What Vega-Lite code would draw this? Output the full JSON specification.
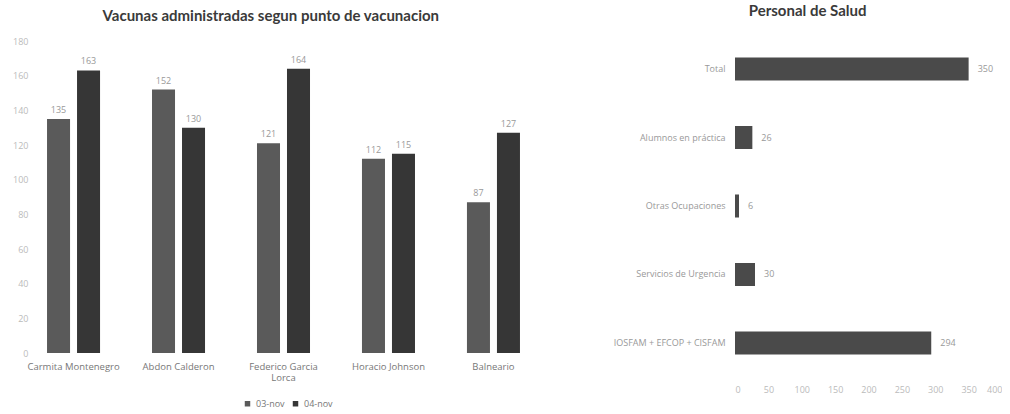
{
  "$schema": "https://vega.github.io/schema/vega-lite/v6.json",
  "background": "white",
  "padding": {"left": 12, "top": 4, "right": 0, "bottom": 0},
  "config": {"view": {"stroke": null}, "font": "Open Sans"},
  "bounds": "flush",
  "spacing": 206,
  "hconcat": [
    {
      "width": 491,
      "height": 312,
      "title": {"text": "Vacunas administradas segun punto de vacunacion", "font": "Lato", "fontSize": 15, "fontWeight": "bold", "color": "#3a3a3a", "offset": 13, "frame": "bounds", "anchor": "middle"},
      "data": {"values": [
        {"punto": "Carmita Montenegro", "fecha": "03-nov", "valor": 135},
        {"punto": "Carmita Montenegro", "fecha": "04-nov", "valor": 163},
        {"punto": "Abdon Calderon", "fecha": "03-nov", "valor": 152},
        {"punto": "Abdon Calderon", "fecha": "04-nov", "valor": 130},
        {"punto": "Federico Garcia Lorca", "fecha": "03-nov", "valor": 121},
        {"punto": "Federico Garcia Lorca", "fecha": "04-nov", "valor": 164},
        {"punto": "Horacio Johnson", "fecha": "03-nov", "valor": 112},
        {"punto": "Horacio Johnson", "fecha": "04-nov", "valor": 115},
        {"punto": "Balneario", "fecha": "03-nov", "valor": 87},
        {"punto": "Balneario", "fecha": "04-nov", "valor": 127}
      ]},
      "encoding": {
        "x": {"field": "punto", "type": "nominal", "sort": null,
          "scale": {"paddingInner": 0.495, "paddingOuter": 0.086},
          "axis": {"title": null, "labelAngle": 0, "labelFontSize": 9.5, "labelColor": "#777", "domain": false, "ticks": false, "labelPadding": 8,
            "labelExpr": "datum.label == 'Federico Garcia Lorca' ? ['Federico Garcia', 'Lorca'] : datum.label"}},
        "xOffset": {"field": "fecha", "type": "nominal", "scale": {"paddingInner": 0.233}},
        "y": {"field": "valor", "type": "quantitative",
          "scale": {"domain": [0, 180]},
          "axis": {"title": null, "values": [0, 20, 40, 60, 80, 100, 120, 140, 160, 180], "grid": false, "domain": false, "ticks": false, "labelColor": "#bbb", "labelFontSize": 9, "labelPadding": 10}}
      },
      "layer": [
        {
          "mark": {"type": "bar"},
          "encoding": {
            "color": {"field": "fecha", "type": "nominal",
              "scale": {"domain": ["03-nov", "04-nov"], "range": ["#5a5a5a", "#363636"]},
              "legend": {"orient": "none", "legendX": 205, "legendY": 358, "title": null, "direction": "horizontal", "symbolType": "square", "symbolSize": 30, "labelFontSize": 9, "labelColor": "#777", "columnPadding": 6}}
          }
        },
        {
          "mark": {"type": "text", "dy": -9, "fontSize": 9, "color": "#999"},
          "encoding": {"text": {"field": "valor", "type": "quantitative"}}
        }
      ]
    },
    {
      "width": 267,
      "height": 330,
      "title": {"text": "Personal de Salud", "font": "Lato", "fontSize": 15, "fontWeight": "bold", "color": "#3a3a3a", "offset": 22, "frame": "bounds", "anchor": "middle"},
      "data": {"values": [
        {"grupo": "Total", "valor": 350},
        {"grupo": "Alumnos en práctica", "valor": 26},
        {"grupo": "Otras Ocupaciones", "valor": 6},
        {"grupo": "Servicios de Urgencia", "valor": 30},
        {"grupo": "IOSFAM + EFCOP + CISFAM", "valor": 294}
      ]},
      "encoding": {
        "y": {"field": "grupo", "type": "nominal", "sort": null,
          "scale": {"paddingInner": 0.664, "paddingOuter": 0.241},
          "axis": {"title": null, "labelColor": "#999", "labelFontSize": 9, "ticks": false, "domain": false, "labelPadding": 10, "labelLimit": 300}},
        "x": {"field": "valor", "type": "quantitative",
          "scale": {"domain": [0, 400]},
          "axis": {"title": null, "values": [0, 50, 100, 150, 200, 250, 300, 350, 400], "grid": false, "domain": false, "ticks": false, "labelColor": "#bbb", "labelFontSize": 9, "labelPadding": 14}}
      },
      "layer": [
        {"mark": {"type": "bar", "color": "#4a4a4a"}},
        {
          "mark": {"type": "text", "align": "left", "dx": 9, "fontSize": 9, "color": "#999"},
          "encoding": {"text": {"field": "valor", "type": "quantitative"}}
        }
      ]
    }
  ]
}
